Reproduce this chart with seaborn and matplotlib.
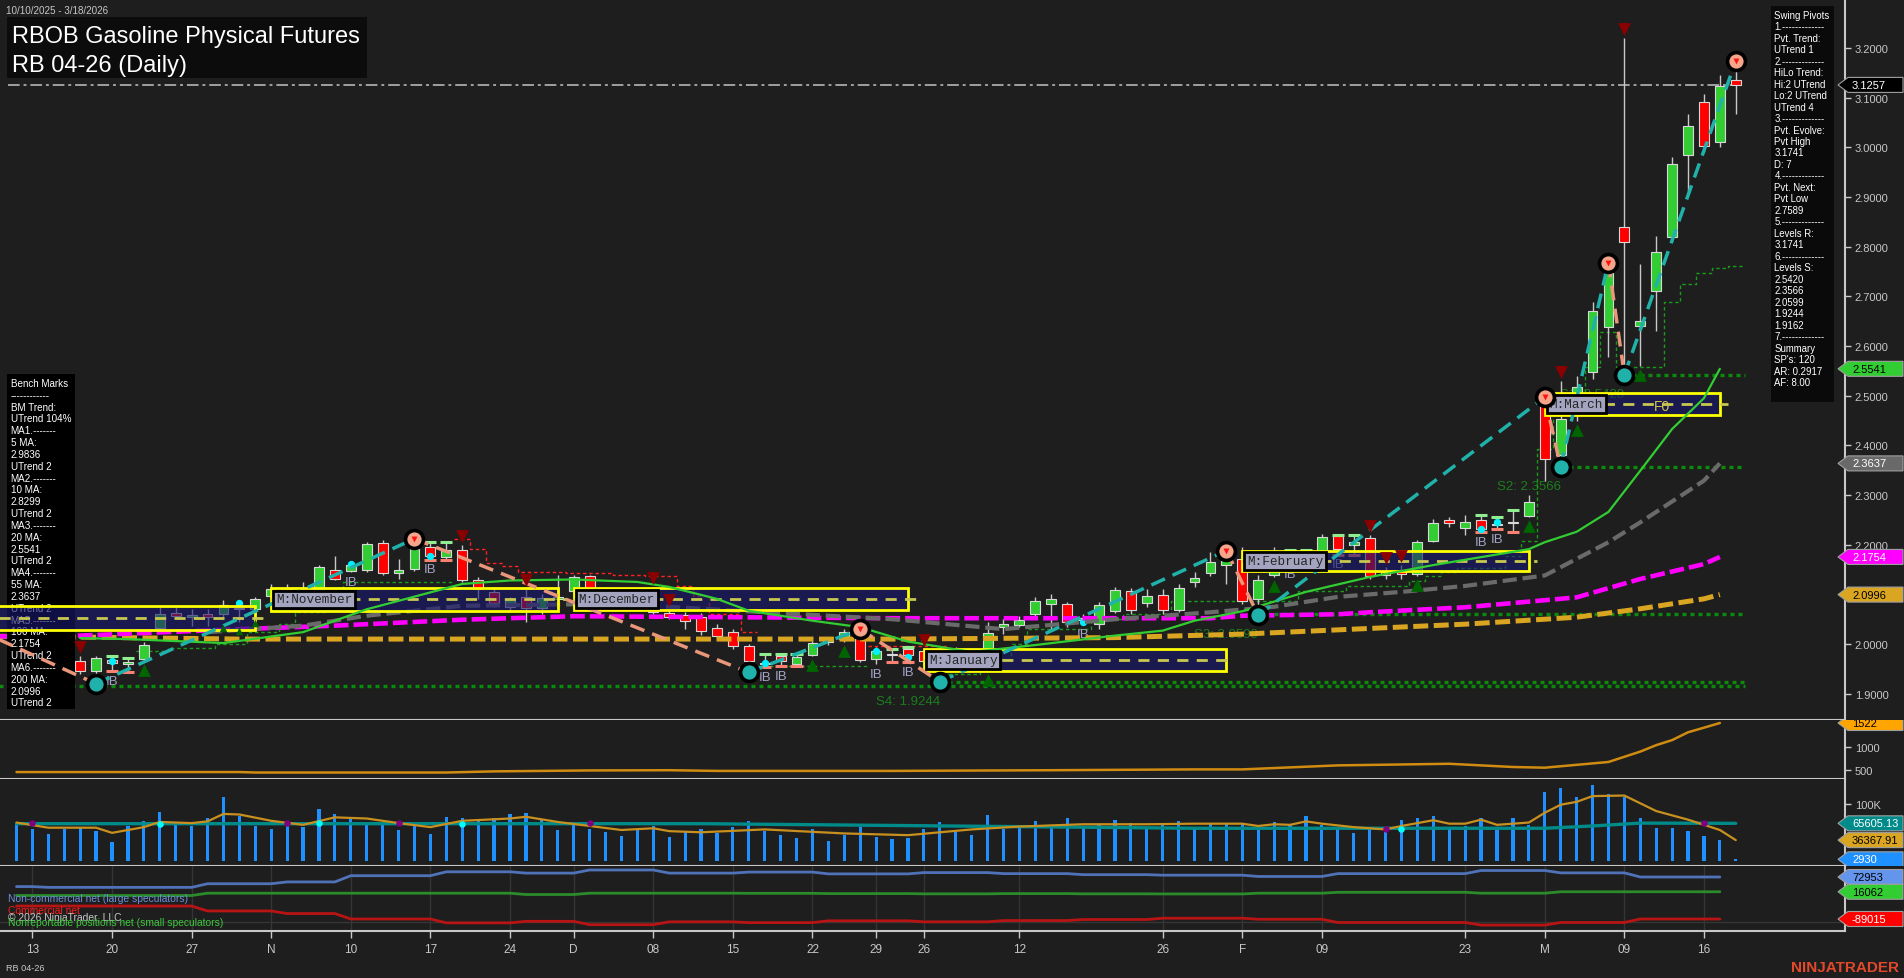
import numpy as np
import pandas as pd
import matplotlib
matplotlib.use("Agg")
import matplotlib.pyplot as plt
import matplotlib.transforms as mtrans
from matplotlib.patches import Rectangle, Polygon
import seaborn as sns

# ================= DATA =================
holidays = ["2025-11-27", "2025-12-25", "2026-01-01", "2026-01-19", "2026-02-16"]
tick_dates = ["2025-10-13", "2025-10-20", "2025-10-27", "2025-11-03", "2025-11-10", "2025-11-17",
              "2025-11-24", "2025-12-01", "2025-12-08", "2025-12-15", "2025-12-22", "2025-12-29",
              "2026-01-02", "2026-01-12", "2026-01-26", "2026-02-02", "2026-02-09", "2026-02-23",
              "2026-03-02", "2026-03-09", "2026-03-16"]
tick_labels = ["13", "20", "27", "N", "10", "17", "24", "D", "08", "15", "22", "29",
               "26", "12", "26", "F", "09", "23", "M", "09", "16"]

opens = [2.020, 2.005, 2.010, 1.990, 1.966, 1.946, 1.968, 1.960, 1.970, 2.032,
         2.062, 2.055, 2.061, 2.060, 2.072, 2.071, 2.097, 2.110, 2.105, 2.107,
         2.149, 2.148, 2.150, 2.203, 2.143, 2.151, 2.195, 2.176, 2.190, 2.128,
         2.105, 2.075, 2.095, 2.073, 2.090, 2.107, 2.137, 2.095, 2.088, 2.083,
         2.107, 2.062, 2.058, 2.054, 2.032, 2.024, 1.996, 1.960, 1.975, 1.960,
         1.977, 2.005, 2.010, 2.025, 1.970, 1.980, 1.990, 1.985, 1.960, 1.975,
         1.985, 1.977, 2.034, 2.038, 2.060, 2.080, 2.080, 2.048, 2.040, 2.067,
         2.106, 2.082, 2.099, 2.069, 2.124, 2.143, 2.160, 2.171, 2.090, 2.140,
         2.170, 2.165, 2.188, 2.217, 2.200, 2.213, 2.146, 2.148, 2.141, 2.208,
         2.250, 2.233, 2.250, 2.240, 2.245, 2.258, 2.483, 2.380, 2.463, 2.547,
         2.638, 2.840, 2.640, 2.711, 2.819, 2.985, 3.091, 3.010, 3.135]
highs = [2.030, 2.030, 2.020, 1.995, 1.975, 1.975, 1.975, 1.972, 2.004, 2.074,
         2.075, 2.070, 2.070, 2.089, 2.085, 2.095, 2.120, 2.120, 2.125, 2.160,
         2.178, 2.165, 2.206, 2.210, 2.171, 2.212, 2.205, 2.205, 2.200, 2.135,
         2.110, 2.095, 2.110, 2.100, 2.139, 2.140, 2.140, 2.115, 2.100, 2.105,
         2.115, 2.070, 2.065, 2.063, 2.040, 2.030, 2.000, 1.980, 1.980, 1.980,
         2.006, 2.015, 2.030, 2.030, 1.995, 1.990, 1.995, 1.990, 1.985, 1.995,
         1.990, 2.044, 2.050, 2.056, 2.094, 2.100, 2.085, 2.060, 2.085, 2.115,
         2.112, 2.110, 2.110, 2.120, 2.145, 2.185, 2.188, 2.195, 2.140, 2.195,
         2.190, 2.190, 2.222, 2.220, 2.220, 2.220, 2.155, 2.160, 2.210, 2.252,
         2.256, 2.260, 2.260, 2.255, 2.270, 2.300, 2.497, 2.530, 2.540, 2.689,
         2.768, 3.221, 2.765, 2.822, 2.980, 3.067, 3.107, 3.146, 3.1741]
lows = [1.995, 1.990, 1.980, 1.960, 1.940, 1.920, 1.945, 1.944, 1.965, 2.028,
        2.050, 2.037, 2.037, 2.050, 2.045, 2.060, 2.090, 2.090, 2.085, 2.100,
        2.128, 2.145, 2.145, 2.140, 2.131, 2.148, 2.170, 2.170, 2.125, 2.090,
        2.075, 2.065, 2.045, 2.060, 2.080, 2.100, 2.090, 2.075, 2.070, 2.075,
        2.060, 2.050, 2.030, 2.018, 2.015, 1.990, 1.943, 1.953, 1.955, 1.955,
        1.975, 1.998, 2.005, 1.963, 1.960, 1.964, 1.963, 1.955, 1.924, 1.965,
        1.960, 1.945, 2.020, 2.035, 2.055, 2.027, 2.035, 2.040, 2.030, 2.062,
        2.060, 2.075, 2.060, 2.065, 2.115, 2.138, 2.120, 2.080, 2.058, 2.135,
        2.160, 2.155, 2.180, 2.180, 2.180, 2.130, 2.130, 2.130, 2.138, 2.205,
        2.236, 2.220, 2.225, 2.232, 2.225, 2.255, 2.329, 2.357, 2.450, 2.534,
        2.577, 2.542, 2.560, 2.631, 2.810, 2.903, 2.990, 3.000, 3.067]
closes = [2.005, 2.015, 1.990, 1.966, 1.946, 1.971, 1.962, 1.963, 1.998, 2.060,
          2.057, 2.058, 2.054, 2.079, 2.070, 2.091, 2.110, 2.100, 2.097, 2.155,
          2.131, 2.160, 2.201, 2.144, 2.149, 2.191, 2.178, 2.190, 2.128, 2.110,
          2.082, 2.090, 2.072, 2.093, 2.095, 2.135, 2.097, 2.085, 2.080, 2.090,
          2.064, 2.054, 2.047, 2.026, 2.017, 1.997, 1.966, 1.962, 1.965, 1.974,
          2.002, 2.008, 2.024, 1.967, 1.987, 1.978, 1.977, 1.965, 1.975, 1.985,
          1.970, 2.022, 2.040, 2.048, 2.086, 2.090, 2.044, 2.052, 2.079, 2.109,
          2.068, 2.097, 2.069, 2.112, 2.133, 2.165, 2.180, 2.087, 2.128, 2.185,
          2.165, 2.180, 2.215, 2.191, 2.205, 2.138, 2.140, 2.141, 2.205, 2.243,
          2.244, 2.246, 2.232, 2.242, 2.243, 2.285, 2.373, 2.453, 2.518, 2.671,
          2.748, 2.809, 2.650, 2.789, 2.966, 3.042, 3.003, 3.124, 3.1257]

volume_k = [66, 56, 47, 56, 59, 52, 33, 61, 70, 86,
            63, 61, 75, 112, 79, 61, 56, 61, 59, 90,
            82, 77, 67, 67, 54, 63, 47, 77, 75, 72,
            75, 81, 84, 72, 54, 65, 56, 51, 44, 56,
            61, 42, 52, 55, 48, 60, 70, 52, 45, 40,
            55, 35, 45, 60, 42, 38, 40, 55, 68, 50,
            45, 80, 55, 60, 70, 58, 75, 60, 65, 72,
            66, 58, 62, 70, 60, 64, 64, 66, 54, 68,
            63, 79, 63, 58, 49, 56, 51, 72, 75, 79,
            58, 61, 75, 54, 75, 63, 120, 127, 111, 132,
            116, 112, 75, 58, 58, 52, 44, 37, 2.93]
vol_fast_idx = [0, 2, 5, 6, 8, 9, 11, 12, 13, 14, 16, 18, 20, 22, 24, 26, 28, 31, 32, 34,
                36, 38, 40, 41, 43, 47, 52, 56, 60, 63, 67, 71, 74, 77, 78, 79, 80, 81, 82, 84,
                86, 87, 89, 90, 91, 92, 93, 95, 96, 97, 98, 99, 101, 103, 105, 106, 107, 108]
vol_fast_k = [67, 58, 58, 49, 59, 68, 66, 69, 82, 81, 70, 63, 76, 74, 66, 59, 70, 74, 77, 68,
              61, 54, 57, 52, 50, 55, 48, 45, 55, 60, 64, 64, 65, 65, 61, 64, 63, 69, 65, 59,
              55, 61, 71, 65, 65, 72, 63, 67, 84, 98, 103, 113, 114, 87, 72, 63, 54, 36.36791]
vol_slow_idx = [0, 43, 74, 96, 99, 102, 108]
vol_slow_k = [65, 65, 57, 57, 61, 66, 65.60513]
vol_dot_purple_idx = [1, 17, 24, 36, 86, 106]
vol_dot_purple_k = [66, 67, 67, 67, 55, 66]
vol_dot_cyan_idx = [9, 19, 28, 87]
vol_dot_cyan_k = [65, 67, 64, 55]

oi_idx = [0, 14, 15, 27, 30, 36, 41, 44, 55, 65, 74, 77, 83, 90, 94, 96, 100, 102, 103, 104, 105, 106, 107]
oi_val = [455, 455, 445, 445, 470, 490, 495, 480, 480, 495, 513, 513, 600, 635, 565, 550, 674, 900, 1040,
          1150, 1320, 1420, 1522]

ma20_idx = [4, 7, 13, 18, 22, 28, 31, 35, 39, 41, 44, 46, 50, 53, 56, 60, 64, 69, 72, 74, 77, 81,
            85, 89, 95, 96, 98, 100, 102, 104, 106, 107]
ma20_val = [2.012, 2.010, 2.002, 2.024, 2.070, 2.121, 2.128, 2.130, 2.125, 2.115, 2.091, 2.067,
            2.047, 2.034, 2.005, 1.984, 1.998, 2.017, 2.027, 2.047, 2.066, 2.105, 2.135, 2.159,
            2.191, 2.205, 2.226, 2.266, 2.349, 2.433, 2.495, 2.5541]
ma55_idx = [12, 18, 22, 28, 35, 41, 47, 55, 62, 69, 75, 79, 83, 87, 91, 96, 100, 102, 106, 107]
ma55_val = [2.024, 2.037, 2.057, 2.077, 2.080, 2.075, 2.064, 2.050, 2.030, 2.050, 2.064, 2.075,
            2.095, 2.105, 2.117, 2.138, 2.205, 2.245, 2.329, 2.3637]
ma100_idx = [-2, 4, 14, 20, 28, 35, 55, 75, 77, 83, 85, 91, 98, 102, 106, 107]
ma100_val = [2.015, 2.017, 2.030, 2.037, 2.049, 2.056, 2.052, 2.052, 2.057, 2.060, 2.064, 2.074,
             2.094, 2.131, 2.161, 2.1754]
ma200_idx = [-2, 4, 14, 28, 55, 69, 77, 84, 91, 98, 102, 106, 107]
ma200_val = [2.016, 2.014, 2.010, 2.010, 2.010, 2.013, 2.020, 2.030, 2.040, 2.054, 2.071, 2.091, 2.0996]

pivot_idx = [-3, 5, 25, 46, 53, 58, 76, 78, 96, 97, 100, 101, 108]
pivot_price = [2.037, 1.920, 2.212, 1.943, 2.030, 1.924, 2.188, 2.058, 2.497, 2.357, 2.768, 2.542, 3.1741]
pivot_kind = ["H", "L", "H", "L", "H", "L", "H", "L", "H", "L", "H", "L", "H"]

support_levels = [2.5420, 2.3566, 2.0599, 1.9244, 1.9162]
support_names = ["S1", "S2", "S3", "S4", ""]
support_start = [101, 97, 78, 58, -3]

month_names = ["October", "November", "December", "January", "February", "March"]
month_start = [-8, 16, 35, 57, 77, 96]
month_end = [15, 34, 56, 76, 95, 107]
month_hi = [2.0766, 2.1128, 2.1128, 1.9900, 2.1879, 2.5048]
month_lo = [2.0283, 2.0671, 2.0691, 1.9463, 2.1477, 2.4617]

trail_specs = [
    ([8, 10, 13, 15, 17, 18, 20, 21], [1.986, 1.992, 2.000, 2.024, 2.040, 2.064, 2.100, 2.124], 27, "#1a9a1a"),
    ([28, 29, 30, 31, 32, 35, 38, 40, 42, 43, 44, 46],
     [2.211, 2.191, 2.163, 2.157, 2.145, 2.144, 2.139, 2.137, 2.117, 2.097, 2.060, 2.024], 46, "#ff2020"),
    ([47], [1.955], 53, "#1a9a1a"),
    ([54], [1.996], 58, "#ff2020"),
    ([59, 61, 63, 64, 68, 70, 73, 81, 84, 88, 89, 90, 91, 94, 95, 96, 97, 99, 100, 101, 104, 105, 106, 107, 108],
     [1.940, 1.970, 2.000, 2.030, 2.050, 2.060, 2.087, 2.107, 2.117, 2.126, 2.137, 2.145, 2.153, 2.178, 2.208,
      2.393, 2.467, 2.557, 2.628, 2.557, 2.688, 2.725, 2.748, 2.758, 2.762], 108, "#1a9a1a"),
]

tri_dn_idx = [4, 28, 32, 40, 41, 57, 85, 86, 87, 97, 101]
tri_up_idx = [8, 50, 52, 61, 79, 88, 95, 98, 102]
tri_up_small_idx = [13, 14, 15]
ib_idx = [6, 7, 26, 27, 47, 48, 49, 55, 56, 80, 81, 83, 84, 92, 93, 94]
ib_text_idx = [6, 21, 26, 47, 48, 54, 56, 67, 80, 83, 92, 93]
cyan_idx = [6, 14, 21, 26, 47, 54, 56, 67, 80, 92, 93]
cyan_val = [1.965, 2.082, 2.161, 2.178, 1.961, 1.987, 1.973, 2.044, 2.158, 2.232, 2.246]

cot_change_idx = [0, 2, 12, 17, 21, 27, 32, 36, 41, 46, 51, 57, 62, 67, 72, 78, 83, 92, 97, 102]
cot_large_k = [36, 33, 47, 54, 78, 93, 88, 100, 88, 92, 85, 90, 86, 82, 80, 75, 86, 98, 89, 72.953]
cot_small_k = [1.6, 1.6, 10.5, 10.5, 10.5, 10.5, 5.4, 10.5, 10.5, 10, 9, 8, 9, 8, 7.6, 10.5, 14, 10.5,
               16.062, 16.062]
cot_comm_k = [-39, -39, -58, -68, -89, -104, -98, -111, -100, -103, -96, -100, -95, -91, -86, -90,
              -102.5, -112.5, -102.5, -89.015]
cot_last_idx = 107

bench_lines = ["Bench Marks", "------------", "BM Trend:", "UTrend 104%", "MA1.-------", "5 MA:",
               "2.9836", "UTrend 2", "MA2.-------", "10 MA:", "2.8299", "UTrend 2", "MA3.-------",
               "20 MA:", "2.5541", "UTrend 2", "MA4.-------", "55 MA:", "2.3637", "UTrend 2",
               "MA5.-------", "100 MA:", "2.1754", "UTrend 2", "MA6.-------", "200 MA:", "2.0996",
               "UTrend 2"]
swing_lines = ["Swing Pivots", "1.-------------", "Pvt. Trend:", "UTrend 1", "2.-------------",
               "HiLo Trend:", "Hi:2 UTrend", "Lo:2 UTrend", "UTrend 4", "3.-------------",
               "Pvt. Evolve:", "Pvt High", "3.1741", "D: 7", "4.-------------", "Pvt. Next:",
               "Pvt Low", "2.7589", "5.-------------", "Levels R:", "3.1741", "6.-------------",
               "Levels S:", "2.5420", "2.3566", "2.0599", "1.9244", "1.9162", "7.-------------",
               "Summary", "SP's: 120", "AR: 0.2917", "AF: 8.00"]

# ================= STYLE / LAYOUT =================
W, H = 1904, 979
BG = "#1e1e1e"
FG = "#c8c8c8"
sns.set_theme(style="dark", rc={"axes.facecolor": BG, "figure.facecolor": BG, "axes.grid": False,
                                "axes.edgecolor": FG, "xtick.color": FG, "ytick.color": FG,
                                "text.color": FG})
plt.rcParams['font.family'] = ['Liberation Sans', 'DejaVu Sans']

XMIN, XMAX = -1.036, 114.86
AXR = 1845
fig = plt.figure(figsize=(W / 100, H / 100), dpi=100)
fig.patch.set_facecolor(BG)
PIX = mtrans.Affine2D().scale(1 / W, -1 / H).translate(0, 1) + fig.transFigure

panels = [(0, 721), (721, 780), (780, 867), (867, 932)]
axs = []
for top, bot in panels:
    a = fig.add_axes([0, 1 - bot / H, AXR / W, (bot - top) / H])
    a.set_facecolor(BG)
    a.set_xlim(XMIN, XMAX)
    for s in ("top", "left"):
        a.spines[s].set_visible(False)
    for s in ("right", "bottom"):
        a.spines[s].set_color(FG)
        a.spines[s].set_linewidth(1.5)
    a.yaxis.tick_right()
    a.tick_params(axis='y', colors=FG, labelcolor=FG, labelsize=8, length=4, width=1, pad=3,
                  direction='out', right=True, left=False, labelright=True, labelleft=False)
    a.tick_params(axis='x', bottom=False, labelbottom=False)
    axs.append(a)
ax, ax2, ax3, ax4 = axs
ax.set_ylim(1.84709, 3.29865)
ax2.set_ylim(304, 1587)
ax3.set_ylim(-8.7, 142.8)
ax4.set_ylim(-135.3, 115.4)

ax.set_yticks(np.round(np.arange(1.9, 3.21, 0.1), 1))
ax.set_yticklabels([f"{v:.4f}" for v in np.arange(1.9, 3.21, 0.1)])
ax2.set_yticks([500, 1000])
ax2.set_yticklabels(["500", "1000"])
ax3.set_yticks([100])
ax3.set_yticklabels(["100K"])
ax4.set_yticks([])

dates = pd.bdate_range("2025-10-10", "2026-03-18")
dates = dates[~dates.isin(pd.to_datetime(holidays))]
tick_pos = [dates.get_loc(pd.Timestamp(t)) for t in tick_dates]
ax4.set_xticks(tick_pos)
ax4.set_xticklabels(tick_labels)
ax4.tick_params(axis='x', bottom=True, labelbottom=True, colors=FG, labelcolor=FG, labelsize=8.5,
                length=5, width=1, pad=4, direction='out')
for tp in tick_pos:
    ax4.axvline(tp, color="#353535", lw=1, zorder=0.5)
ax4.axhline(-100, color="#353535", lw=1, zorder=0.5)

idx = np.arange(len(opens))
o, hh, ll, c = map(np.array, (opens, highs, lows, closes))
up = c >= o

# ---------------- main panel ----------------
for lev, name, st in zip(support_levels, support_names, support_start):
    ax.hlines(lev, st, idx[-1] + 0.6, color="#0b8a0b", lw=2.4, linestyles=(0, (1.2, 1.2)), zorder=1.2)
    if name:
        ax.annotate(f"{name}: {lev:.4f}", xy=(st, lev), xytext=(0, -14), textcoords="offset points",
                    ha="right", va="center", color="#1d7d1d", fontsize=9.5, zorder=1.3)

for ch_idx, vals, end, col in trail_specs:
    xs, ys = [], []
    for i in range(ch_idx[0], end + 1):
        k = max(j for j, ci in enumerate(ch_idx) if ci <= i)
        xs.append(i - 0.5)
        ys.append(vals[k])
    xs.append(end + 0.5)
    ys.append(ys[-1])
    ax.step(xs, ys, where="post", color=col, lw=1.0, linestyle=(0, (2.5, 2)), zorder=1.4)

ax.axhline(closes[-1], xmin=8 / AXR, xmax=1745 / AXR, color="#a0a0a0", lw=1.4,
           linestyle=(0, (6, 2, 1.5, 2)), zorder=1.8)

ax.vlines(idx, ll, hh, color="#c8c8c8", lw=1.0, zorder=2)
ax.bar(idx, np.maximum(np.abs(c - o), 0.0025), bottom=np.minimum(o, c), width=0.62,
       color=np.where(up, "#32cd32", "#ff0000"), edgecolor="#d8d8d8", linewidth=0.8, zorder=2.2)


def sline(a, x, y, color, lw, dashes=None, z=3):
    sns.lineplot(x=x, y=y, ax=a, color=color, linewidth=lw, legend=False, estimator=None,
                 sort=False, errorbar=None)
    ln = a.lines[-1]
    if dashes:
        ln.set_dashes(dashes)
    ln.set_zorder(z)
    ln.set_dash_capstyle("butt")
    return ln


sline(ax, ma200_idx, ma200_val, "#daa520", 3.6, (3.0, 1.1), 3.0)
sline(ax, ma100_idx, ma100_val, "#ff00ff", 3.3, (3.2, 1.1), 3.05)
sline(ax, ma55_idx, ma55_val, "#6a6a6a", 3.0, (3.4, 1.4), 3.1)

ax.add_patch(Rectangle((7, 375), 68, 335, transform=PIX, fc="#000000", ec="none", zorder=3.5,
                       clip_on=False))
for k, line in enumerate(bench_lines):
    ax.text(10.7, 384 + k * 11.83, line, transform=PIX, color="white", fontsize=7.1, va="center",
            ha="left", zorder=3.6, clip_on=False)

for nm, s0, s1, hi, lo in zip(month_names, month_start, month_end, month_hi, month_lo):
    ax.add_patch(Rectangle((s0, lo), s1 - s0, hi - lo, fc="#191970", alpha=0.62, ec="none", zorder=4))
    ax.add_patch(Rectangle((s0, lo), s1 - s0, hi - lo, fc="none", ec="#ffff00", lw=2.0, zorder=4.1))
    ax.hlines((hi + lo) / 2, s0, s1 + 0.5, color="#c8c850", lw=2.0, linestyles=(0, (4, 3)), zorder=4.2)
    ax.annotate(f"M:{nm}", xy=(s0, (hi + lo) / 2), xytext=(3.5, 0), textcoords="offset points",
                ha="left", va="center", fontsize=9.2, family="Liberation Mono", color="#262626",
                zorder=5.5, annotation_clip=True,
                bbox=dict(boxstyle="square,pad=0.22", fc="#a4a4c0", ec="black", lw=2))
ax.annotate("F0", xy=(month_start[-1] + 0.67 * (month_end[-1] - month_start[-1]), month_lo[-1]),
            xytext=(0, 6), textcoords="offset points", ha="center", va="center", fontsize=10,
            color="#d2c64a", zorder=4.3)

sline(ax, ma20_idx, ma20_val, "#32cd32", 1.6, None, 4.5)

TEAL, SALMON = "#20b2aa", "#e9967a"
for k in range(len(pivot_idx) - 1):
    col = TEAL if pivot_kind[k] == "L" else SALMON
    ax.plot(pivot_idx[k:k + 2], pivot_price[k:k + 2], color=col, lw=2.5, dashes=(4.3, 2.4),
            zorder=5, dash_capstyle="butt")
pk = np.array(pivot_kind)
px_ = np.array(pivot_idx)
pp_ = np.array(pivot_price)
ax.scatter(px_, pp_, s=240, color="black", zorder=6, linewidths=0)
ax.scatter(px_[pk == "H"], pp_[pk == "H"], s=105, color="#f4a58a", zorder=6.1, linewidths=0)
ax.scatter(px_[pk == "H"], pp_[pk == "H"], s=18, marker="v", color="#ff1010", zorder=6.2, linewidths=0)
ax.scatter(px_[pk == "L"], pp_[pk == "L"], s=105, color="#20b2aa", zorder=6.1, linewidths=0)

off_up = mtrans.offset_copy(ax.transData, fig=fig, x=0, y=9, units="dots")
off_dn = mtrans.offset_copy(ax.transData, fig=fig, x=0, y=-9, units="dots")
ax.scatter(tri_dn_idx, hh[tri_dn_idx], marker="v", s=85, color="#8b0000", transform=off_up, zorder=6,
           linewidths=0)
ax.scatter(tri_up_idx, ll[tri_up_idx], marker="^", s=85, color="#006400", transform=off_dn, zorder=6,
           linewidths=0)
ax.scatter(tri_up_small_idx, ll[tri_up_small_idx], marker="^", s=30, color="#006400", transform=off_dn,
           zorder=6, linewidths=0)

ax.hlines(hh[ib_idx], np.array(ib_idx) - 0.38, np.array(ib_idx) + 0.38, color="#90ee90", lw=2.2, zorder=2.3)
ax.hlines(ll[ib_idx], np.array(ib_idx) - 0.38, np.array(ib_idx) + 0.38, color="#fa8072", lw=2.2, zorder=2.3)
ax.scatter(cyan_idx, cyan_val, s=28, color="#00f0ff", zorder=2.4, linewidths=0)
for i in ib_text_idx:
    ax.annotate("IB", xy=(i, ll[i]), xytext=(0, -7), textcoords="offset points", ha="center",
                va="center", fontsize=9.5, color="#a4a4c8", zorder=2.5)

# ---------------- panel 2 ----------------
sline(ax2, oi_idx, oi_val, "#d08c10", 1.8, None, 3)

# ---------------- panel 3 (volume) ----------------
ax3.bar(idx, volume_k, width=0.2, color="#1e90ff", edgecolor="none", linewidth=0, zorder=2)
sline(ax3, vol_slow_idx, vol_slow_k, "#008b8b", 2.4, None, 3)
sline(ax3, vol_fast_idx, vol_fast_k, "#c8901e", 1.6, None, 3.2)
ax3.scatter(vol_dot_purple_idx, vol_dot_purple_k, s=22, color="#800080", zorder=4, linewidths=0)
ax3.scatter(vol_dot_cyan_idx, vol_dot_cyan_k, s=22, color="#00ffff", zorder=4, linewidths=0)

# ---------------- panel 4 (COT) ----------------
def expand(vals):
    out = []
    for i in range(cot_last_idx + 1):
        k = max(j for j, ci in enumerate(cot_change_idx) if ci <= i)
        out.append(vals[k])
    return out


cot_x = list(range(cot_last_idx + 1))
sline(ax4, cot_x, expand(cot_large_k), "#4f72b8", 2.0, None, 3)
sline(ax4, cot_x, expand(cot_small_k), "#2a8c2a", 2.0, None, 3)
sline(ax4, cot_x, expand(cot_comm_k), "#b81414", 2.0, None, 3)

# ---------------- price tags ----------------
def add_tag(a, top_px, bot_px, value, text, fc, tc, ec="#a0a0a0"):
    y0, y1 = a.get_ylim()
    half = 7.5 * (y1 - y0) / (bot_px - top_px)
    tr = mtrans.blended_transform_factory(a.transAxes, a.transData)
    xt, xs, xr = 1838 / AXR, 1848 / AXR, 1903 / AXR
    poly = Polygon([[xt, value], [xs, value + half], [xr, value + half], [xr, value - half],
                    [xs, value - half]], closed=True, transform=tr, fc=fc, ec=ec, lw=0.8, zorder=20)
    a.add_patch(poly)
    clip = mtrans.TransformedBbox(mtrans.Bbox([[0, 1 - bot_px / H], [1, 1 - top_px / H]]), fig.transFigure)
    poly.set_clip_path(None)
    poly.set_clip_box(clip)
    poly.set_clip_on(True)
    t = a.text(1852 / AXR, value, text, transform=tr, color=tc, fontsize=8, va="center", ha="left",
               zorder=21)
    t.set_clip_path(None)
    t.set_clip_box(clip)
    t.set_clip_on(True)


add_tag(ax, 0, 721, closes[-1], f"{closes[-1]:.4f}", "#000000", "white")
add_tag(ax, 0, 721, ma20_val[-1], f"{ma20_val[-1]:.4f}", "#32cd32", "black")
add_tag(ax, 0, 721, ma55_val[-1], f"{ma55_val[-1]:.4f}", "#696969", "white")
add_tag(ax, 0, 721, ma100_val[-1], f"{ma100_val[-1]:.4f}", "#ff00ff", "white")
add_tag(ax, 0, 721, ma200_val[-1], f"{ma200_val[-1]:.4f}", "#daa520", "black")
add_tag(ax2, 721, 780, oi_val[-1], f"{oi_val[-1]}", "#ffa500", "black")
add_tag(ax3, 780, 867, vol_slow_k[-1], f"{vol_slow_k[-1] * 1000:.2f}", "#008b8b", "white")
add_tag(ax3, 780, 867, vol_fast_k[-1], f"{vol_fast_k[-1] * 1000:.2f}", "#daa520", "black")
add_tag(ax3, 780, 867, volume_k[-1], f"{volume_k[-1] * 1000:.0f}", "#1e90ff", "white")
add_tag(ax4, 867, 932, cot_large_k[-1], f"{cot_large_k[-1] * 1000:.0f}", "#6495ed", "black")
add_tag(ax4, 867, 932, cot_small_k[-1], f"{cot_small_k[-1] * 1000:.0f}", "#32cd32", "black")
add_tag(ax4, 867, 932, cot_comm_k[-1], f"{cot_comm_k[-1] * 1000:.0f}", "#ff0000", "white")

# ---------------- text overlays ----------------
ax.text(6, 11, "10/10/2025 - 3/18/2026", transform=PIX, color=FG, fontsize=7.1, va="center",
        ha="left", zorder=7, clip_on=False)
ax.add_patch(Rectangle((7, 18), 360, 61, transform=PIX, fc="#0c0c0c", ec="none", zorder=7,
                       clip_on=False))
ax.text(12, 43.3, "RBOB Gasoline Physical Futures", transform=PIX, color="white", fontsize=17,
        va="baseline", ha="left", zorder=7.1, clip_on=False)
ax.text(12, 71.7, "RB 04-26 (Daily)", transform=PIX, color="white", fontsize=17, va="baseline",
        ha="left", zorder=7.1, clip_on=False)

ax.add_patch(Rectangle((1771, 7), 63, 396, transform=PIX, fc="#0a0a0a", ec="none", zorder=7,
                       clip_on=False))
for k, line in enumerate(swing_lines):
    ax.text(1774.5, 15.7 + k * 11.48, line, transform=PIX, color="white", fontsize=6.9, va="center",
            ha="left", zorder=7.1, clip_on=False)

cot_labels = [("Non-commercial net (large speculators)", "#6d8fdc", 899),
              ("Commercial net", "#ff1a1a", 911),
              ("\u00a9 2026 NinjaTrader, LLC", "#c8c8c8", 918),
              ("Nonreportable positions net (small speculators)", "#3cc83c", 923.5)]
for txt, col, yy in cot_labels:
    ax4.text(8, yy, txt, transform=PIX, color=col, fontsize=7.4, va="center", ha="left", zorder=8,
             clip_on=False)
ax4.text(6, 969, "RB 04-26", transform=PIX, color=FG, fontsize=6.6, va="center", ha="left",
         clip_on=False)
ax4.text(1899, 968, "NINJATRADER", transform=PIX, color="#e2492a", fontsize=11, fontweight="bold",
         va="center", ha="right", clip_on=False)

fig.savefig("out.png", dpi=100, facecolor=BG)
